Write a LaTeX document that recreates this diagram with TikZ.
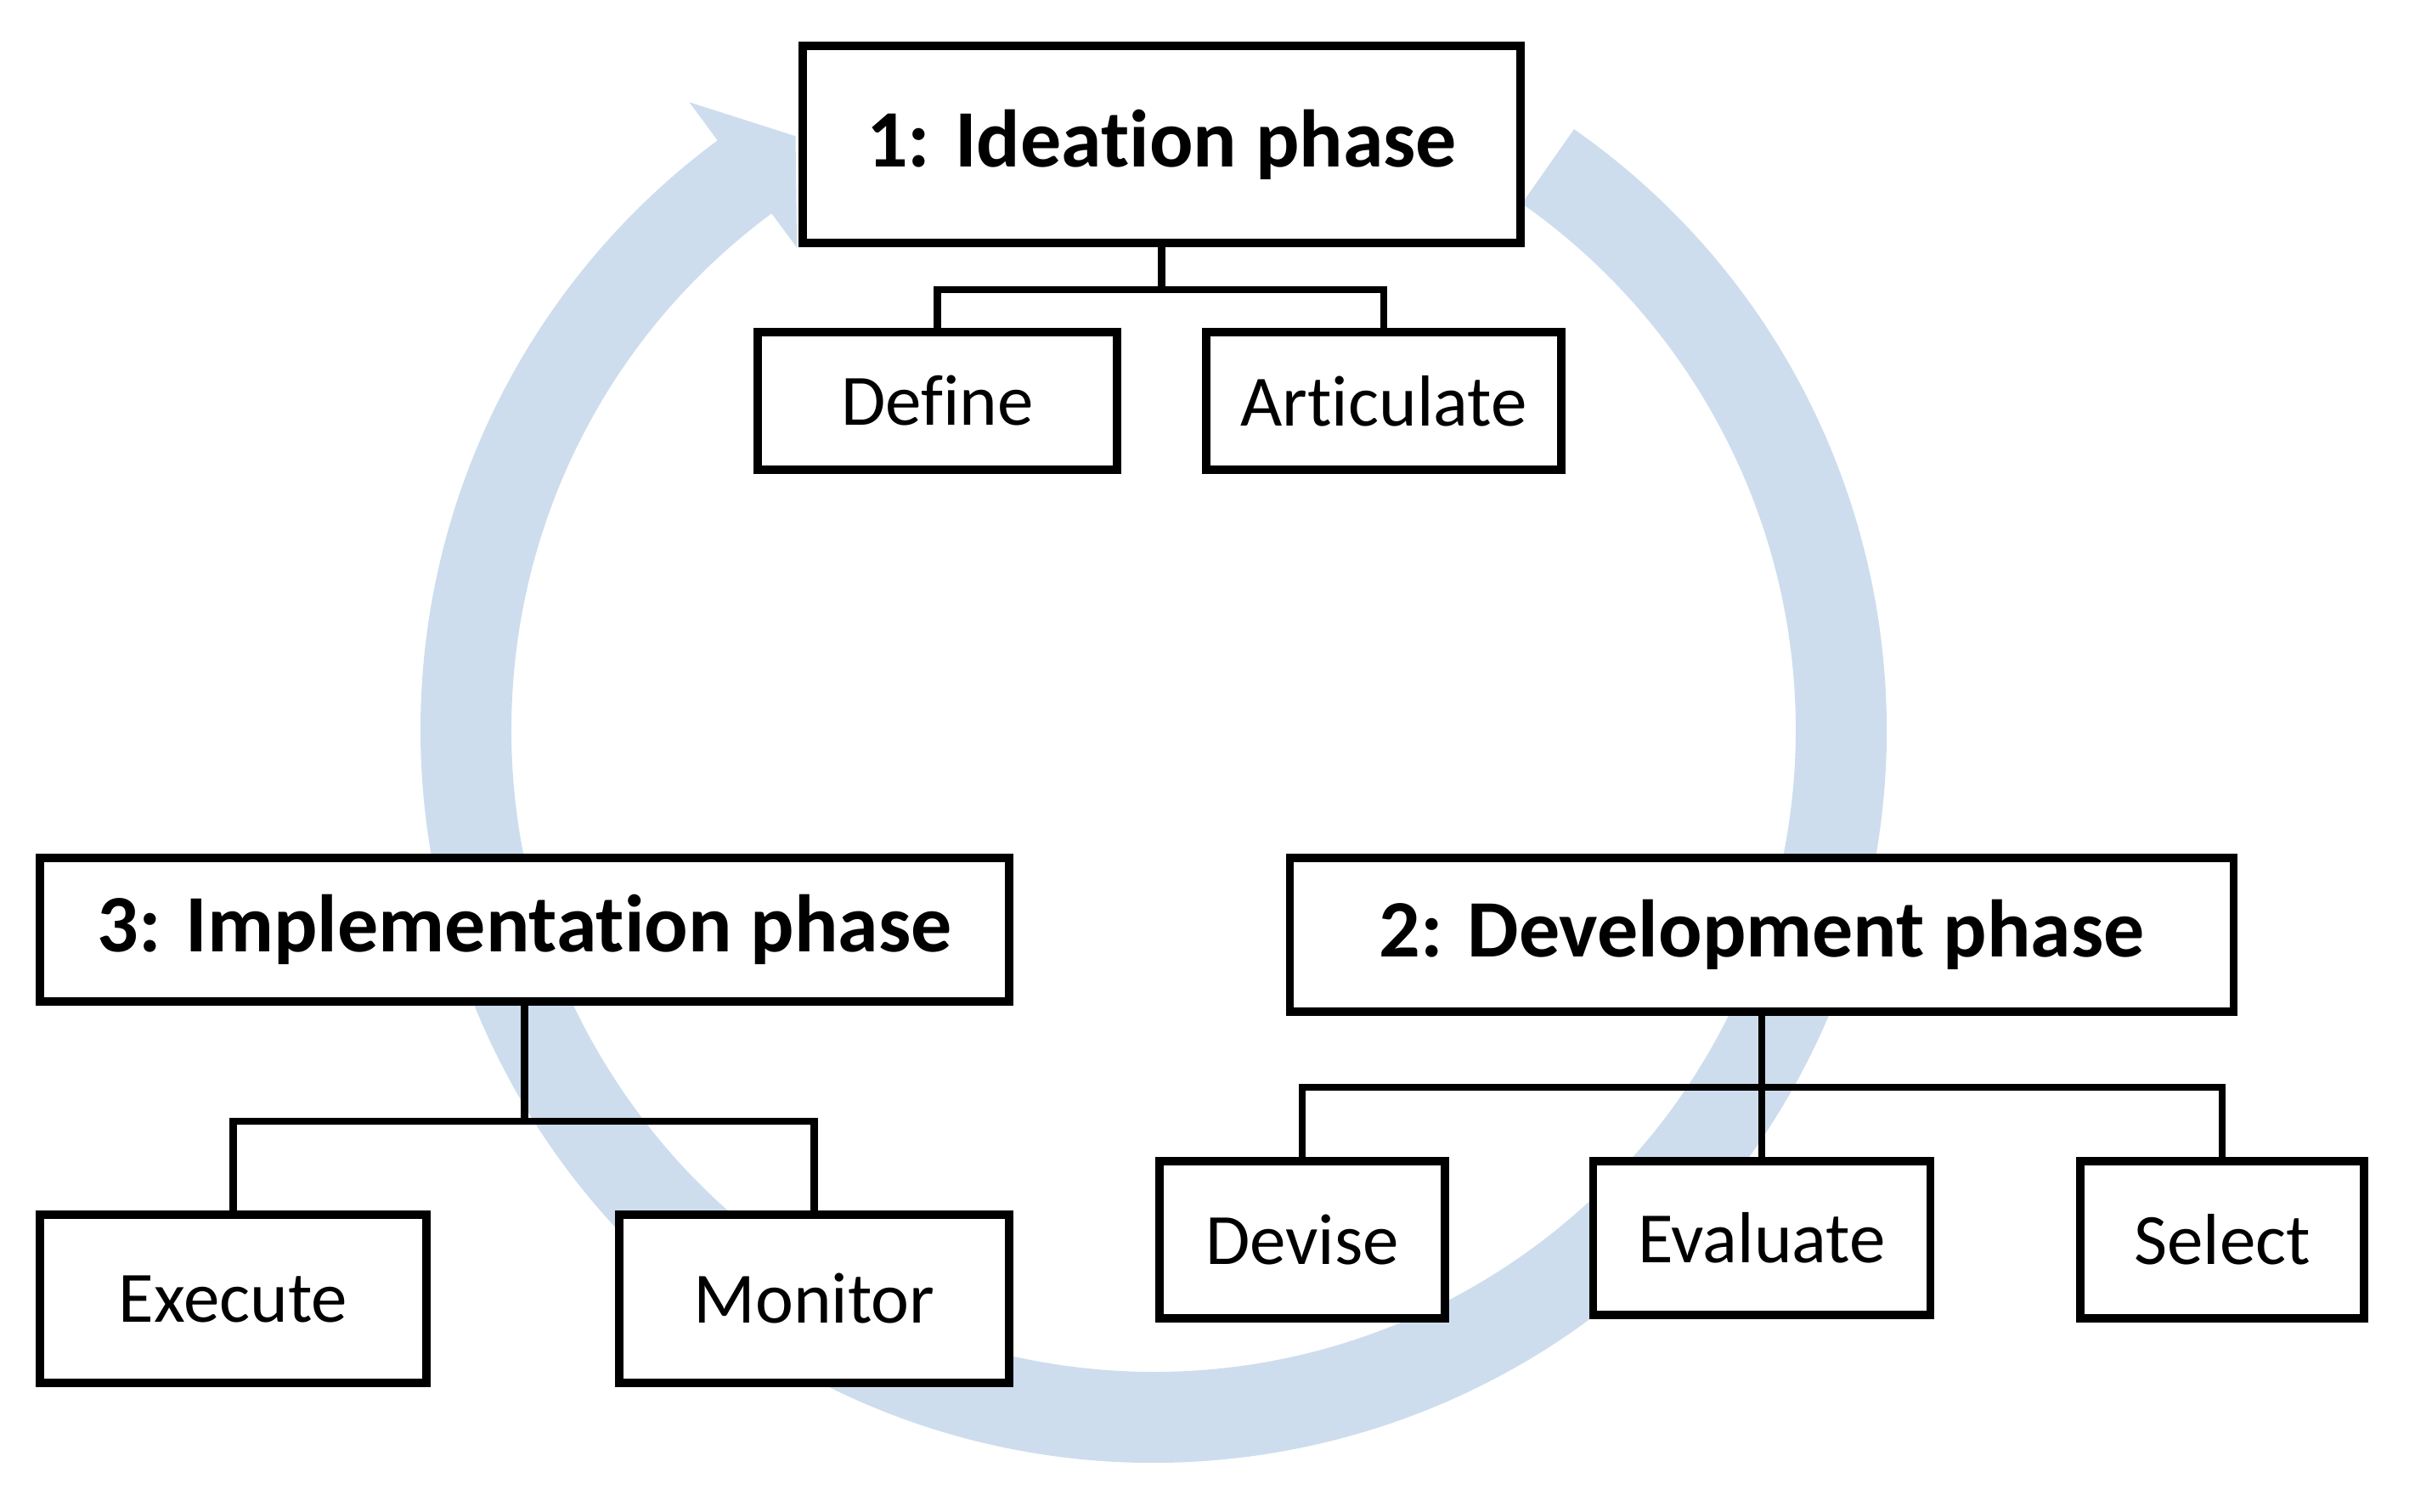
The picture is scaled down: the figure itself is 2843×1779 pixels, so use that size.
\documentclass[tikz,border=0pt]{standalone}
\usepackage{fontspec}
\setmainfont{Carlito}[RawFeature={-liga;-clig;-dlig}]
\definecolor{ringblue}{RGB}{205,221,238}
\tikzset{
  box/.style={draw=black, line width=2.6pt, fill=white, inner sep=0pt, align=center},
  sz/.style 2 args={minimum width=#1*0.01cm, minimum height=#2*0.01cm},
  phasebox/.style={box, font=\fontsize{27.3}{30}\selectfont\bfseries},
  subbox/.style={box, font=\fontsize{24.2}{28}\selectfont},
  link/.style={draw=black, line width=2.5pt}
}
\begin{document}
\begin{tikzpicture}[x=0.01cm, y=-0.01cm]
\useasboundingbox (0,0) rectangle (2843,1779);
% cycle arrow
\begin{scope}[shift={(1358,859)}, yscale=-1]
\fill[ringblue] (55:863) arc[start angle=55, end angle=-233.5, radius=863]
  -- (-233.5:919) -- (-238.9:816) -- (-233.5:706) -- (-233.5:756)
  arc[start angle=-233.5, end angle=55, radius=756] -- cycle;
\end{scope}
% phase 1
\node[phasebox, sz={845}{232}] (P1) at (1367.5,170) {1: Ideation phase};
\node[subbox, sz={423}{162}] (Def) at (1103.5,472) {Define};
\node[subbox, sz={418}{162}] (Art) at (1629,472) {Articulate};
\coordinate (b1) at (1367.5,341);
\draw[link] (P1.south) -- (b1);
\draw[link] (Def.north) |- (b1) -| (Art.north);
% phase 3
\node[phasebox, sz={1141}{169}] (P3) at (617.5,1094.5) {3: Implementation phase};
\node[subbox, sz={455}{198}] (Exe) at (274.5,1529) {Execute};
\node[subbox, sz={459}{198}] (Mon) at (958.5,1529) {Monitor};
\coordinate (b3) at (617.5,1320);
\draw[link] (P3.south) -- (b3);
\draw[link] (Exe.north) |- (b3) -| (Mon.north);
% phase 2
\node[phasebox, sz={1111}{181}] (P2) at (2074,1100.5) {2: Development phase};
\node[subbox, sz={336}{185}] (Dev) at (1533,1459.5) {Devise};
\node[subbox, sz={397}{181}] (Eva) at (2074,1457.5) {Evaluate};
\node[subbox, sz={334}{185}] (Sel) at (2616,1459.5) {Select};
\coordinate (b2) at (2074,1280);
\draw[link] (P2.south) -- (Eva.north);
\draw[link] (Dev.north) |- (b2) -| (Sel.north);
\end{tikzpicture}
\end{document}
